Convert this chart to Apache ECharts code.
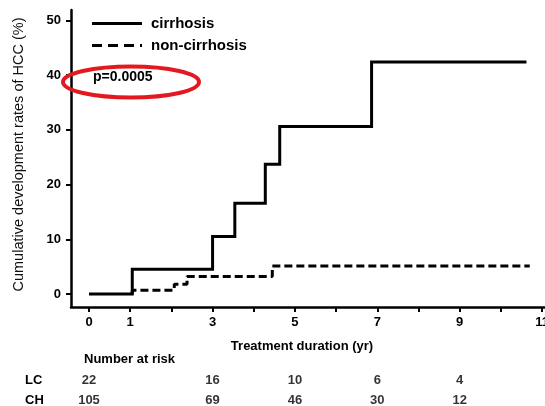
<!DOCTYPE html>
<html>
<head>
<meta charset="utf-8">
<script src="https://cdn.jsdelivr.net/npm/echarts@6/dist/echarts.min.js"></script>
<style>
  html, body { margin: 0; padding: 0; background: #fff; }
  #chart { width: 545px; height: 406px; }
</style>
</head>
<body>
<div id="chart"></div>
<script>
// Cumulative HCC development (step curves), years vs %
const cirrhosis = [[0, 0], [1.05, 4.5], [3.0, 10.5], [3.54, 16.6], [4.28, 23.7], [4.63, 30.6], [6.86, 42.4], [10.62, 42.4]];
const nonCirrhosis = [[1.05, 0], [1.05, 0.7], [2.07, 1.8], [2.38, 3.2], [4.45, 5.1], [10.7, 5.1]];

// Axis ticks and labels
const xTicks = [0, 1, 2, 3, 4, 5, 6, 7, 8, 9, 10, 11];
const xLabels = [0, 1, 3, 5, 7, 9, 11];
const yTicks = [0, 10, 20, 30, 40, 50];

// Number at risk table
const riskTimes = [0, 3, 5, 7, 9];
const riskGroups = ['CH', 'LC'];
const lcRisk = [22, 16, 10, 6, 4];
const chRisk = [105, 69, 46, 30, 12];

const FONT = "'Liberation Sans', Arial, sans-serif";
const X_MIN = -0.437, X_MAX = 11.07;

// Legend swatches: a solid bar and a dashed bar
const SOLID_ICON = 'path://M0,0H50V3H0Z';
const DASH_ICON = 'path://M0,0H10V3H0Z M16,0H26V3H16Z M32,0H42V3H32Z M48,0H50V3H48Z';

const riskData = [];
riskTimes.forEach((t, i) => {
  riskData.push([t, 'LC', lcRisk[i]]);
  riskData.push([t, 'CH', chRisk[i]]);
});

const chart = echarts.init(document.getElementById('chart'), null, { renderer: 'canvas' });

chart.setOption({
  animation: false,
  backgroundColor: '#fff',
  textStyle: { fontFamily: FONT, color: '#000' },
  grid: [
    { left: 71, right: 0, top: 10, bottom: 99, outerBoundsMode: 'none' },
    { left: 71, right: 0, top: 370, height: 40, outerBoundsMode: 'none' }
  ],
  legend: {
    orient: 'vertical',
    left: 92,
    top: 16,
    padding: 0,
    itemWidth: 50,
    itemHeight: 3,
    itemGap: 7,
    textStyle: { fontFamily: FONT, fontWeight: 'bold', fontSize: 15, color: '#000', padding: [0, 0, 0, 4] },
    data: [
      { name: 'cirrhosis', icon: SOLID_ICON },
      { name: 'non-cirrhosis', icon: DASH_ICON }
    ]
  },
  xAxis: [
    {
      type: 'value',
      gridIndex: 0,
      min: X_MIN,
      max: X_MAX,
      splitLine: { show: false },
      axisLine: { show: true, onZero: false, lineStyle: { color: '#000', width: 2.5 } },
      axisTick: { show: true, length: 5, customValues: xTicks, lineStyle: { color: '#000', width: 2 } },
      axisLabel: {
        customValues: xLabels,
        margin: 9,
        fontFamily: FONT, fontWeight: 'bold', fontSize: 13, color: '#000'
      },
      name: 'Treatment duration (yr)',
      nameLocation: 'middle',
      nameGap: 33,
      nameMoveOverlap: false,
      nameTextStyle: { fontFamily: FONT, fontWeight: 'bold', fontSize: 13, color: '#000', padding: [0, 12, 0, 0] }
    },
    {
      type: 'value',
      gridIndex: 1,
      min: X_MIN,
      max: X_MAX,
      show: false
    }
  ],
  yAxis: [
    {
      type: 'value',
      gridIndex: 0,
      min: -2.38,
      max: 51.9,
      splitLine: { show: false },
      axisLine: { show: true, onZero: false, lineStyle: { color: '#000', width: 2.5 } },
      axisTick: { show: true, length: 5, customValues: yTicks, lineStyle: { color: '#000', width: 2 } },
      axisLabel: {
        customValues: yTicks,
        margin: 10,
        fontFamily: FONT, fontWeight: 'bold', fontSize: 13, color: '#000'
      },
      name: 'Cumulative development rates of HCC (%)',
      nameLocation: 'middle',
      nameGap: 45,
      nameMoveOverlap: false,
      nameTextStyle: { fontFamily: FONT, fontSize: 14.5, color: '#111', padding: [0, 0, 0, 8] }
    },
    {
      type: 'category',
      gridIndex: 1,
      data: riskGroups,
      axisLine: { show: false },
      axisTick: { show: false },
      splitLine: { show: false },
      axisLabel: {
        align: 'left',
        margin: 46,
        fontFamily: FONT, fontWeight: 'bold', fontSize: 13, color: '#000'
      }
    }
  ],
  series: [
    {
      name: 'cirrhosis',
      type: 'line',
      step: 'end',
      xAxisIndex: 0, yAxisIndex: 0,
      symbol: 'none',
      data: cirrhosis,
      lineStyle: { color: '#000', width: 3, join: 'miter' },
      itemStyle: { color: '#000' },
      z: 3
    },
    {
      name: 'non-cirrhosis',
      type: 'line',
      step: 'end',
      xAxisIndex: 0, yAxisIndex: 0,
      symbol: 'none',
      data: nonCirrhosis,
      lineStyle: { color: '#000', width: 3, type: [8, 4] },
      itemStyle: { color: '#000' },
      z: 2
    },
    {
      name: 'risk',
      type: 'scatter',
      xAxisIndex: 1, yAxisIndex: 1,
      symbolSize: 0,
      silent: true,
      clip: false,
      data: riskData,
      label: {
        show: true,
        position: 'inside',
        formatter: p => String(p.value[2]),
        fontFamily: FONT, fontWeight: 'bold', fontSize: 13, color: '#000'
      }
    }
  ],
  graphic: [
    {
      type: 'text',
      left: 93,
      top: 70,
      style: { text: 'p=0.0005', fontFamily: FONT, fontWeight: 'bold', fontSize: 14, fill: '#000' },
      z: 10
    },
    {
      type: 'ellipse',
      shape: { cx: 131, cy: 82, rx: 68, ry: 15.5 },
      style: { fill: 'none', stroke: '#e3191f', lineWidth: 4 },
      z: 11
    },
    {
      type: 'text',
      left: 84,
      top: 353,
      style: { text: 'Number at risk', fontFamily: FONT, fontWeight: 'bold', fontSize: 13, fill: '#000' }
    }
  ]
});
</script>
</body>
</html>
